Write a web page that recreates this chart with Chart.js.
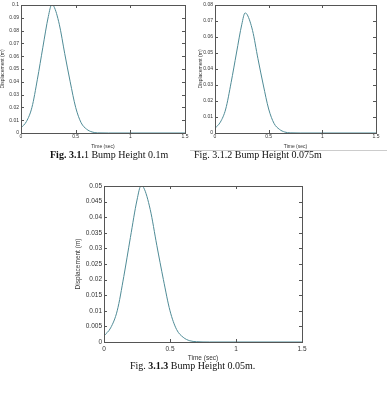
<!DOCTYPE html>
<html>
<head>
<meta charset="utf-8">
<script src="https://cdn.jsdelivr.net/npm/chart.js@4"></script>
<style>
  body { margin: 0; background: #fff; }
  #page { position: relative; width: 387px; height: 416px; overflow: hidden; }
  .box { position: absolute; }
  .cap { position: absolute; font-family: 'Liberation Serif', serif; font-size: 10px; color: #111; white-space: nowrap; }
</style>
</head>
<body>
<div id="page">
  <div class="box" style="left:0;top:0;width:190px;height:150px"><canvas id="c1" width="190" height="150"></canvas></div>
  <div class="box" style="left:198px;top:0;width:189px;height:150px"><canvas id="c2" width="189" height="150"></canvas></div>
  <div class="box" style="left:74px;top:180px;width:236px;height:182px"><canvas id="c3" width="236" height="182"></canvas></div>
  <div style="position:absolute;left:190px;top:150px;width:197px;border-top:1px solid #ccc"></div>
  <div class="cap" style="left:50px;top:149px"><b>Fig. 3.1.</b>1 Bump Height 0.1m</div>
  <div class="cap" style="left:194px;top:149px">Fig. 3.1.2 Bump Height 0.075m</div>
  <div class="cap" style="left:130px;top:360px">Fig. <b>3.1.3</b> Bump Height 0.05m.</div>
</div>
<script>
// time axis (sec)
const time = [0, 0.05, 0.1, 0.15, 0.2, 0.25, 0.28, 0.3, 0.35, 0.4, 0.45, 0.5, 0.55, 0.6, 0.65, 0.7, 0.8, 1.0, 1.5];

// displacement (m) for each bump height
const bump01 = [0.004, 0.009, 0.020, 0.042, 0.067, 0.091, 0.100, 0.099, 0.085, 0.062, 0.040, 0.020, 0.008, 0.003, 0.0008, 0.0001, 0, 0, 0];
const bump0075 = [0.003, 0.0068, 0.015, 0.0315, 0.050, 0.068, 0.075, 0.074, 0.064, 0.0465, 0.030, 0.015, 0.006, 0.0023, 0.0006, 0.0001, 0, 0, 0];
const bump005 = [0.002, 0.0045, 0.010, 0.021, 0.0335, 0.0455, 0.050, 0.0495, 0.0425, 0.031, 0.020, 0.010, 0.004, 0.0015, 0.0004, 0.0001, 0, 0, 0];

// tick labels
const xTicks = ['0', '0.5', '1', '1.5'];
const yTicks1 = ['0', '0.01', '0.02', '0.03', '0.04', '0.05', '0.06', '0.07', '0.08', '0.09', '0.1'];
const yTicks2 = ['0', '0.01', '0.02', '0.03', '0.04', '0.05', '0.06', '0.07', '0.08'];
const yTicks3 = ['0', '0.005', '0.01', '0.015', '0.02', '0.025', '0.03', '0.035', '0.04', '0.045', '0.05'];

// box + inward tick marks, matlab style
const frame = {
  id: 'frame',
  afterDraw(chart) {
    const ctx = chart.ctx;
    const a = chart.chartArea;
    const xs = chart.scales.x, ys = chart.scales.y;
    ctx.save();
    ctx.strokeStyle = '#555';
    ctx.lineWidth = 1;
    ctx.strokeRect(Math.round(a.left) + 0.5, Math.round(a.top) + 0.5, Math.round(a.right - a.left), Math.round(a.bottom - a.top));
    ctx.beginPath();
    ys.ticks.forEach(t => {
      const y = Math.round(ys.getPixelForValue(t.value)) + 0.5;
      ctx.moveTo(a.left, y); ctx.lineTo(a.left + 3, y);
      ctx.moveTo(a.right, y); ctx.lineTo(a.right - 3, y);
    });
    xs.ticks.forEach(t => {
      const x = Math.round(xs.getPixelForValue(t.value)) + 0.5;
      ctx.moveTo(x, a.bottom); ctx.lineTo(x, a.bottom - 3);
      ctx.moveTo(x, a.top); ctx.lineTo(x, a.top + 3);
    });
    ctx.stroke();
    ctx.restore();
  }
};

function makeChart(id, values, yTicks, o) {
  const ctx = document.getElementById(id).getContext('2d');
  return new Chart(ctx, {
    type: 'line',
    data: {
      labels: time,
      datasets: [{
        data: time.map((t, i) => ({ x: t, y: values[i] })),
        borderColor: '#4f8b96',
        borderWidth: 1,
        pointRadius: 0,
        cubicInterpolationMode: 'monotone',
        fill: false
      }]
    },
    options: {
      responsive: false,
      animation: false,
      layout: { padding: { top: o.top, right: o.right, left: 0, bottom: 0 } },
      plugins: { legend: { display: false }, tooltip: { enabled: false } },
      scales: {
        x: {
          type: 'linear',
          min: 0,
          max: 1.5,
          afterBuildTicks: ax => { ax.ticks = xTicks.map(s => ({ value: +s })); },
          afterFit: ax => { ax.height = o.xh; },
          grid: { display: false, drawTicks: false },
          border: { display: false },
          ticks: { padding: o.xp, color: '#333', font: { family: 'Liberation Sans', size: o.fs }, maxRotation: 0, callback: (v, i) => xTicks[i] },
          title: { display: true, text: 'Time (sec)', color: '#333', padding: 0, font: { family: 'Liberation Sans', size: o.fs } }
        },
        y: {
          min: 0,
          max: +yTicks[yTicks.length - 1],
          afterBuildTicks: ax => { ax.ticks = yTicks.map(s => ({ value: +s })); },
          afterFit: ax => { ax.width = o.yw; },
          grid: { display: false, drawTicks: false },
          border: { display: false },
          ticks: { padding: 2, color: '#333', font: { family: 'Liberation Sans', size: o.fs }, callback: (v, i) => yTicks[i] },
          title: { display: true, text: 'Displacement (m)', color: '#333', padding: 0, font: { family: 'Liberation Sans', size: o.fs } }
        }
      }
    },
    plugins: [frame]
  });
}

makeChart('c1', bump01, yTicks1, { top: 4, right: 5, xh: 17, yw: 21, fs: 5, xp: 1 });
makeChart('c2', bump0075, yTicks2, { top: 5, right: 11, xh: 17, yw: 17, fs: 5, xp: 1 });
makeChart('c3', bump005, yTicks3, { top: 6, right: 8, xh: 20, yw: 30, fs: 6.5, xp: 3 });
</script>
</body>
</html>
